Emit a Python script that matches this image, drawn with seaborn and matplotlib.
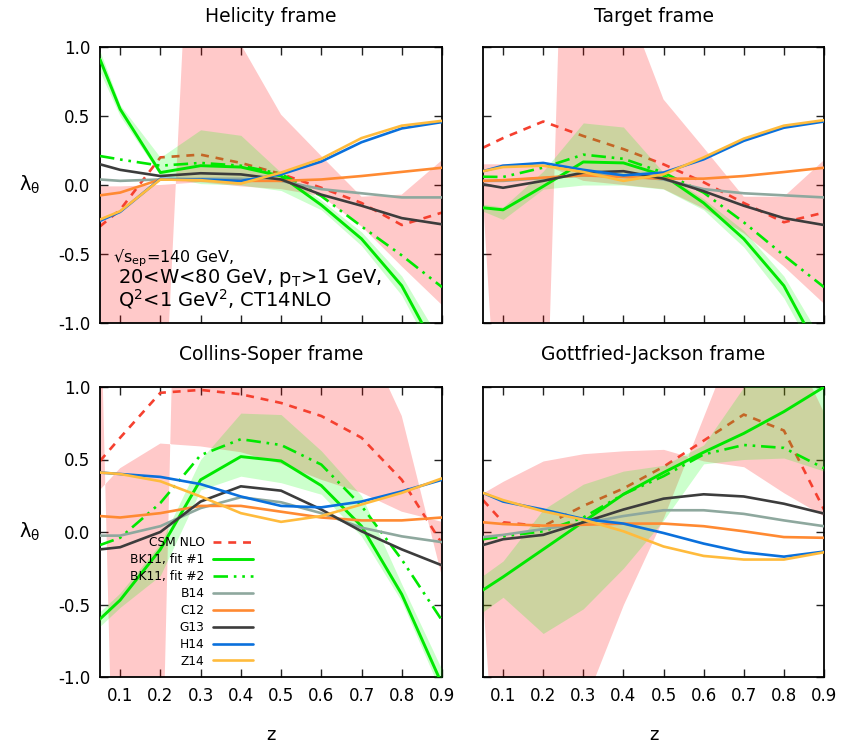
import matplotlib
matplotlib.use("Agg")
import matplotlib.pyplot as plt
import pandas as pd
import seaborn as sns

# ---------------------------------------------------------------- data
Z = [0.05, 0.1, 0.2, 0.3, 0.4, 0.5, 0.6, 0.7, 0.8, 0.9]

# Helicity frame
HX_CSM = [-0.30, -0.18, 0.20, 0.22, 0.16, 0.08, -0.02, -0.13, -0.29, -0.20]
HX_CSM_A = [-3.0, -3.0, -2.3, 3.7, 1.02, 0.51, 0.21, -0.085, -0.07, 0.18]
HX_CSM_B = [-0.01, -0.01, 0.0, 0.02, -0.01, -0.03, -0.08, -0.30, -0.59, -0.87]
HX_BK1 = [0.91, 0.55, 0.09, 0.14, 0.13, 0.065, -0.145, -0.39, -0.73, -1.27]
HX_BK_LO = [0.82, 0.50, 0.07, 0.01, 0.0, -0.04, -0.18, -0.44, -0.80, -1.35]
HX_BK_HI = [0.97, 0.58, 0.20, 0.40, 0.36, 0.09, -0.11, -0.34, -0.66, -1.15]
HX_BK2 = [0.21, 0.185, 0.14, 0.16, 0.14, 0.08, -0.08, -0.30, -0.51, -0.74]
HX_B14 = [0.04, 0.03, 0.04, 0.045, 0.045, 0.03, -0.03, -0.06, -0.09, -0.09]
HX_C12 = [-0.075, -0.055, 0.04, 0.035, 0.03, 0.03, 0.04, 0.065, 0.095, 0.125]
HX_G13 = [0.15, 0.11, 0.065, 0.085, 0.077, 0.04, -0.07, -0.15, -0.24, -0.285]
HX_H14 = [-0.26, -0.195, 0.045, 0.04, 0.03, 0.077, 0.17, 0.31, 0.41, 0.456]
HX_Z14 = [-0.25, -0.19, 0.04, 0.035, 0.01, 0.09, 0.19, 0.34, 0.43, 0.465]

# Target frame
TF_CSM = [0.27, 0.34, 0.46, 0.355, 0.26, 0.15, 0.02, -0.13, -0.27, -0.20]
TF_CSM_A = [-0.1, -2.5, -2.6, 7.0, 1.38, 0.62, 0.27, -0.085, -0.085, 0.18]
TF_CSM_B = [0.15, 0.15, 0.15, 0.03, 0.0, -0.03, -0.17, -0.35, -0.59, -0.86]
TF_BK1 = [-0.165, -0.18, -0.01, 0.167, 0.16, 0.07, -0.13, -0.39, -0.73, -1.27]
TF_BK_LO = [-0.19, -0.25, -0.03, 0.0, 0.0, -0.03, -0.18, -0.45, -0.82, -1.35]
TF_BK_HI = [-0.14, -0.16, 0.10, 0.45, 0.42, 0.09, -0.10, -0.33, -0.66, -1.15]
TF_BK2 = [0.06, 0.058, 0.126, 0.22, 0.19, 0.09, -0.055, -0.27, -0.51, -0.74]
TF_B14 = [0.03, 0.03, 0.05, 0.07, 0.07, 0.04, -0.03, -0.06, -0.075, -0.09]
TF_C12 = [0.03, 0.035, 0.053, 0.07, 0.058, 0.046, 0.046, 0.065, 0.094, 0.125]
TF_G13 = [0.005, -0.02, 0.03, 0.09, 0.10, 0.046, -0.045, -0.15, -0.24, -0.29]
TF_H14 = [0.10, 0.14, 0.16, 0.11, 0.07, 0.09, 0.186, 0.32, 0.415, 0.46]
TF_Z14 = [0.10, 0.13, 0.14, 0.094, 0.03, 0.077, 0.20, 0.336, 0.43, 0.47]

# Collins-Soper frame
CS_CSM = [0.49, 0.65, 0.96, 0.98, 0.95, 0.89, 0.80, 0.65, 0.36, -0.08]
CS_CSM_A = [1.8, -3.8, -2.3, 9.5, 3.0, 2.0, 1.6, 1.4, 0.8, -0.31]
CS_CSM_B = [0.29, 0.44, 0.61, 0.59, 0.55, 0.47, 0.36, 0.27, 0.14, 0.07]
CS_BK1 = [-0.60, -0.47, -0.12, 0.36, 0.52, 0.49, 0.32, 0.04, -0.43, -1.05]
CS_BK_LO = [-0.65, -0.52, -0.30, 0.29, 0.385, 0.34, 0.26, -0.03, -0.48, -1.12]
CS_BK_HI = [-0.55, -0.42, -0.08, 0.50, 0.82, 0.81, 0.56, 0.25, -0.36, -0.95]
CS_BK2 = [-0.09, -0.04, 0.20, 0.53, 0.64, 0.60, 0.465, 0.18, -0.19, -0.61]
CS_B14 = [-0.025, -0.025, 0.04, 0.165, 0.24, 0.205, 0.13, 0.03, -0.03, -0.07]
CS_C12 = [0.11, 0.10, 0.13, 0.18, 0.18, 0.14, 0.10, 0.08, 0.08, 0.10]
CS_G13 = [-0.12, -0.105, 0.0, 0.21, 0.315, 0.285, 0.155, 0.005, -0.12, -0.23]
CS_H14 = [0.41, 0.40, 0.38, 0.33, 0.245, 0.18, 0.17, 0.21, 0.28, 0.36]
CS_Z14 = [0.41, 0.40, 0.35, 0.245, 0.13, 0.07, 0.11, 0.19, 0.27, 0.37]

# Gottfried-Jackson frame
GJ_CSM = [0.22, 0.067, 0.04, 0.18, 0.30, 0.45, 0.63, 0.81, 0.70, 0.155]
GJ_CSM_A = [0.27, 0.35, 0.49, 0.54, 0.56, 0.57, 0.49, 0.45, 0.27, 0.11]
GJ_CSM_B = [-0.5, -2.5, -3.0, -1.2, -0.5, 0.1, 0.8, 1.5, 1.4, 0.82]
GJ_BK1 = [-0.40, -0.31, -0.12, 0.07, 0.26, 0.41, 0.55, 0.68, 0.83, 1.0]
GJ_BK_LO = [-0.55, -0.45, -0.70, -0.53, -0.25, 0.08, 0.47, 0.50, 0.51, 0.42]
GJ_BK_HI = [-0.30, -0.20, 0.155, 0.33, 0.42, 0.46, 0.60, 1.0, 1.3, 1.3]
GJ_BK2 = [-0.05, -0.03, 0.005, 0.10, 0.26, 0.385, 0.535, 0.60, 0.58, 0.44]
GJ_B14 = [-0.035, -0.02, 0.02, 0.06, 0.11, 0.15, 0.15, 0.125, 0.08, 0.04]
GJ_C12 = [0.067, 0.055, 0.044, 0.05, 0.058, 0.058, 0.04, 0.005, -0.035, -0.04]
GJ_G13 = [-0.09, -0.05, -0.02, 0.067, 0.155, 0.23, 0.26, 0.245, 0.195, 0.127]
GJ_H14 = [0.27, 0.21, 0.155, 0.09, 0.058, -0.007, -0.08, -0.14, -0.17, -0.135]
GJ_Z14 = [0.27, 0.22, 0.143, 0.085, 0.005, -0.10, -0.165, -0.19, -0.19, -0.14]

FRAME_TITLES = ["Helicity frame", "Target frame",
                "Collins-Soper frame", "Gottfried-Jackson frame"]
MODEL_LABELS = ["CSM NLO", "BK11, fit #1", "BK11, fit #2",
                "B14", "C12", "G13", "H14", "Z14"]
X_TICKS = [0.1, 0.2, 0.3, 0.4, 0.5, 0.6, 0.7, 0.8, 0.9]
Y_TICKS = [-1.0, -0.5, 0.0, 0.5, 1.0]

# ---------------------------------------------------------------- style
sns.set_style("ticks")
plt.rcParams["font.family"] = ["DejaVu Sans"]
plt.rcParams["mathtext.default"] = "regular"
plt.rcParams["text.color"] = "black"
plt.rcParams["xtick.color"] = "black"
plt.rcParams["ytick.color"] = "black"
plt.rcParams["xtick.labelcolor"] = "black"
plt.rcParams["ytick.labelcolor"] = "black"

RED = "#f5402f"
GREEN = "#00e800"
COLORS = {"B14": "#8ea89e", "C12": "#ff8a32", "G13": "#3c3c3c",
          "H14": "#0a70dc", "Z14": "#ffbb3c"}
LW = 1.9

frames = [
    (HX_CSM, HX_CSM_A, HX_CSM_B, HX_BK1, HX_BK_LO, HX_BK_HI, HX_BK2,
     HX_B14, HX_C12, HX_G13, HX_H14, HX_Z14),
    (TF_CSM, TF_CSM_A, TF_CSM_B, TF_BK1, TF_BK_LO, TF_BK_HI, TF_BK2,
     TF_B14, TF_C12, TF_G13, TF_H14, TF_Z14),
    (CS_CSM, CS_CSM_A, CS_CSM_B, CS_BK1, CS_BK_LO, CS_BK_HI, CS_BK2,
     CS_B14, CS_C12, CS_G13, CS_H14, CS_Z14),
    (GJ_CSM, GJ_CSM_A, GJ_CSM_B, GJ_BK1, GJ_BK_LO, GJ_BK_HI, GJ_BK2,
     GJ_B14, GJ_C12, GJ_G13, GJ_H14, GJ_Z14),
]

W, H = 842, 747
fig = plt.figure(figsize=(W / 100, H / 100), dpi=100)

# panel boxes in pixels: left, top, right, bottom
boxes = [(100, 47, 442, 323), (483, 47, 824, 323),
         (100, 387, 442, 677), (483, 387, 824, 677)]

axes = []
for i, (l, t, r, b) in enumerate(boxes):
    ax = fig.add_axes([l / W, 1 - b / H, (r - l) / W, (b - t) / H])
    axes.append(ax)
    (csm, csm_a, csm_b, bk1, bk_lo, bk_hi, bk2,
     b14, c12, g13, h14, z14) = frames[i]

    # CSM NLO uncertainty band and central curve
    ax.fill_between(Z, csm_a, csm_b, color="#ff0000", alpha=0.21,
                    linewidth=0, zorder=1)
    sns.lineplot(x=Z, y=csm, ax=ax, color=RED, lw=LW,
                 linestyle=(0, (3.0, 2.6)), label=MODEL_LABELS[0], zorder=2)
    # BK11 band drawn over the CSM curve
    ax.fill_between(Z, bk_lo, bk_hi, color="#00ff00", alpha=0.2,
                    linewidth=0, zorder=3)
    sns.lineplot(x=Z, y=bk1, ax=ax, color=GREEN, lw=2.1,
                 label=MODEL_LABELS[1], zorder=4)
    sns.lineplot(x=Z, y=bk2, ax=ax, color=GREEN, lw=LW,
                 linestyle=(0, (5.5, 2.2, 1.0, 2.2, 1.0, 2.2)),
                 label=MODEL_LABELS[2], zorder=4)
    for name, vals in zip(["B14", "C12", "G13", "H14", "Z14"],
                          [b14, c12, g13, h14, z14]):
        df = pd.DataFrame({"z": Z, "lam": vals})
        sns.lineplot(data=df, x="z", y="lam", ax=ax, color=COLORS[name],
                     lw=LW, label=name, zorder=5)

    ax.set_xlim(0.05, 0.9)
    ax.set_ylim(-1.0, 1.0)
    ax.set_xticks(X_TICKS)
    ax.set_yticks(Y_TICKS)
    ax.set_xlabel("")
    ax.set_ylabel("")
    ax.tick_params(direction="in", top=True, right=True, length=6,
                   width=1.0, color="#222222", labelsize=12, pad=7)
    if i % 2 == 1:
        ax.set_yticklabels([])
    else:
        ax.set_yticklabels([f"{v:.1f}" for v in Y_TICKS])
    if i < 2:
        ax.set_xticklabels([])
    else:
        ax.set_xticklabels([f"{v:.1f}" for v in X_TICKS])
    for sp in ax.spines.values():
        sp.set_linewidth(1.3)
        sp.set_color("black")
    ax.get_legend().remove()

    cx = (l + r) / 2
    title_y = 16 if i < 2 else 355
    fig.text(cx / W, 1 - title_y / H, FRAME_TITLES[i],
             ha="center", va="center", fontsize=13.5)
    if i >= 2:
        fig.text(cx / W, 1 - 735 / H, "z", ha="center", va="center",
                 fontsize=13)
    if i % 2 == 0:
        fig.text(30 / W, 1 - ((t + b) / 2) / H, r"$\lambda_\theta$",
                 ha="center", va="center", fontsize=14)

# kinematics note in the helicity frame
ax0 = axes[0]
ax0.text(0.082, -0.56, "√s$_{ep}$=140 GeV,", fontsize=11.5,
         va="baseline", ha="left", zorder=6)
ax0.text(0.095, -0.71, "20<W<80 GeV, p$_T$>1 GeV,", fontsize=14,
         va="baseline", ha="left", zorder=6)
ax0.text(0.095, -0.88, "Q$^2$<1 GeV$^2$, CT14NLO", fontsize=14,
         va="baseline", ha="left", zorder=6)

# legend in the Collins-Soper frame
h, lab = axes[2].get_legend_handles_labels()
leg = axes[2].legend(h, lab, loc="upper right", bbox_to_anchor=(0.447, 0.485),
                     frameon=False, markerfirst=False, fontsize=8.8,
                     handlelength=3.3, handletextpad=0.65, labelspacing=0.32,
                     borderaxespad=0, borderpad=0)
for txt in leg.get_texts():
    txt.set_color("black")

fig.savefig("out.png", dpi=100)
